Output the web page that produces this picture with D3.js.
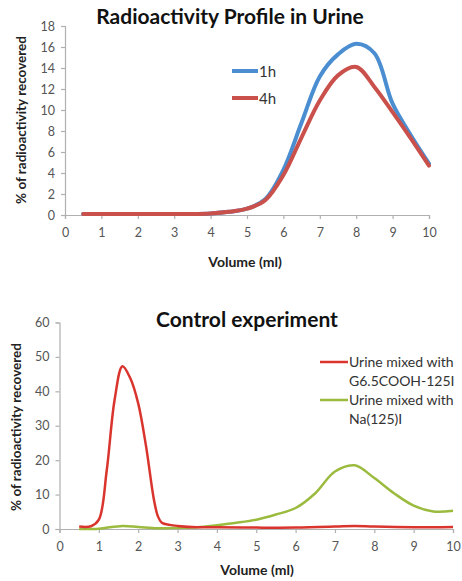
<!DOCTYPE html>
<html><head><meta charset="utf-8">
<script src="https://cdn.jsdelivr.net/npm/d3@7"></script>
<style>body{margin:0;background:#fff}svg{display:block}</style>
</head><body>
<svg id="c" width="462" height="581"></svg>
<script>
// Top chart data
const volTop = [0.5,1,1.5,2,2.5,3,3.5,4,4.5,5,5.5,6,6.5,7,7.5,8,8.5,9,9.5,10];
const h1 = [0.1,0.1,0.1,0.1,0.1,0.1,0.1,0.15,0.3,0.6,1.5,4.3,8.8,13.2,15.3,16.3,15.4,10.6,7.6,4.9];
const h4 = [0.1,0.1,0.1,0.1,0.1,0.1,0.1,0.15,0.3,0.6,1.4,3.8,7.4,10.9,13.3,14.1,12.2,9.8,7.3,4.7];
const topYTicks = [0,2,4,6,8,10,12,14,16,18];
const xTicks = [0,1,2,3,4,5,6,7,8,9,10];

// Bottom chart data
const volRed = [0.5,0.8,1,1.2,1.4,1.6,1.8,2,2.2,2.4,2.5,2.6,2.8,3,3.5,4,5,6,7,7.5,8,9,10];
const redVals = [0.7,0.8,2.7,17,37.5,47.3,43.8,36.5,24,8.5,3.7,1.8,1.2,0.9,0.5,0.5,0.4,0.4,0.7,0.9,0.7,0.5,0.6];
const volGreen = [0.5,1,1.6,2,2.5,3,3.5,4,4.5,5,5.5,6,6.5,7,7.5,8,8.5,9,9.5,10];
const greenVals = [0,0.1,0.9,0.6,0.2,0.3,0.5,1.1,1.8,2.7,4.2,6.1,10.4,16.7,18.5,14.8,10.4,6.8,5.1,5.3];
const botYTicks = [0,10,20,30,40,50,60];

const svg = d3.select("#c");
const FONT = "Lato, 'Open Sans', sans-serif";

function drawAxes(g, x, y, yTicks) {
  const ax = g.append("g").attr("transform", `translate(0,${y(0)})`)
    .call(d3.axisBottom(x).tickValues(xTicks).tickSize(4).tickPadding(9));
  const ay = g.append("g").attr("transform", `translate(${x(0)},0)`)
    .call(d3.axisLeft(y).tickValues(yTicks).tickSize(4).tickPadding(6));
  [ax, ay].forEach(a => {
    a.selectAll("path,line").attr("stroke", "#b0b0b0").attr("stroke-width", 1.2);
    a.selectAll("text").attr("fill", "#555").style("font-family", FONT).style("font-size", "12.5px");
  });
}

// ---- Top chart
{
  const x = d3.scaleLinear().domain([0,10]).range([65,429]);
  const y = d3.scaleLinear().domain([0,18]).range([215,26]);
  const g = svg.append("g");
  drawAxes(g, x, y, topYTicks);
  const line = d3.line().curve(d3.curveCatmullRom.alpha(0.5)).x(d=>x(d[0])).y(d=>y(d[1]));
  g.append("path").attr("d", line(volTop.map((v,i)=>[v,h1[i]])))
    .attr("fill","none").attr("stroke","#4a8dd0").attr("stroke-width",4).attr("stroke-linecap","round");
  g.append("path").attr("d", line(volTop.map((v,i)=>[v,h4[i]])))
    .attr("fill","none").attr("stroke","#c9504b").attr("stroke-width",4).attr("stroke-linecap","round");
  // legend
  const leg = [["1h","#4a8dd0",71],["4h","#c9504b",98]];
  leg.forEach(([t,c,yy])=>{
    g.append("line").attr("x1",232).attr("x2",258).attr("y1",yy).attr("y2",yy).attr("stroke",c).attr("stroke-width",4);
    g.append("text").attr("x",259).attr("y",yy+1).attr("dy","0.35em").text(t)
      .style("font-family",FONT).style("font-size","15px").attr("fill","#333");
  });
  g.append("text").attr("x",230).attr("y",24).attr("text-anchor","middle").text("Radioactivity Profile in Urine")
    .style("font-family",FONT).style("font-weight","bold").style("font-size","21px").attr("fill","#111");
  g.append("text").attr("x",245).attr("y",267).attr("text-anchor","middle").text("Volume (ml)")
    .style("font-family",FONT).style("font-weight","bold").style("font-size","14px").attr("fill","#222");
  g.append("text").attr("transform","translate(26,120) rotate(-90)").attr("text-anchor","middle")
    .text("% of radioactivity recovered")
    .style("font-family",FONT).style("font-weight","bold").style("font-size","13.5px").attr("fill","#222");
}

// ---- Bottom chart
{
  const x = d3.scaleLinear().domain([0,10]).range([59.5,453]);
  const y = d3.scaleLinear().domain([0,60]).range([529,322.5]);
  const g = svg.append("g");
  drawAxes(g, x, y, botYTicks);
  const line = d3.line().curve(d3.curveCatmullRom.alpha(0.5)).x(d=>x(d[0])).y(d=>y(d[1]));
  g.append("path").attr("d", line(volGreen.map((v,i)=>[v,greenVals[i]])))
    .attr("fill","none").attr("stroke","#9bbb3f").attr("stroke-width",2.5);
  g.append("path").attr("d", line(volRed.map((v,i)=>[v,redVals[i]])))
    .attr("fill","none").attr("stroke","#d9352e").attr("stroke-width",2.5);
  const leg = [[["Urine mixed with","G6.5COOH-125I"],"#d9352e",362],[["Urine mixed with","Na(125)I"],"#9bbb3f",400]];
  leg.forEach(([ts,c,yy])=>{
    g.append("line").attr("x1",320).attr("x2",348).attr("y1",yy).attr("y2",yy).attr("stroke",c).attr("stroke-width",2.5);
    ts.forEach((t,k)=>{
      g.append("text").attr("x",349).attr("y",yy+k*19).attr("dy","0.35em").text(t)
        .style("font-family",FONT).style("font-size","14px").attr("fill","#333");
    });
  });
  g.append("text").attr("x",247).attr("y",327).attr("text-anchor","middle").text("Control experiment")
    .style("font-family",FONT).style("font-weight","bold").style("font-size","21px").attr("fill","#111");
  g.append("text").attr("x",257).attr("y",575).attr("text-anchor","middle").text("Volume (ml)")
    .style("font-family",FONT).style("font-weight","bold").style("font-size","14px").attr("fill","#222");
  g.append("text").attr("transform","translate(21,427) rotate(-90)").attr("text-anchor","middle")
    .text("% of radioactivity recovered")
    .style("font-family",FONT).style("font-weight","bold").style("font-size","13.5px").attr("fill","#222");
}
</script>
</body></html>
